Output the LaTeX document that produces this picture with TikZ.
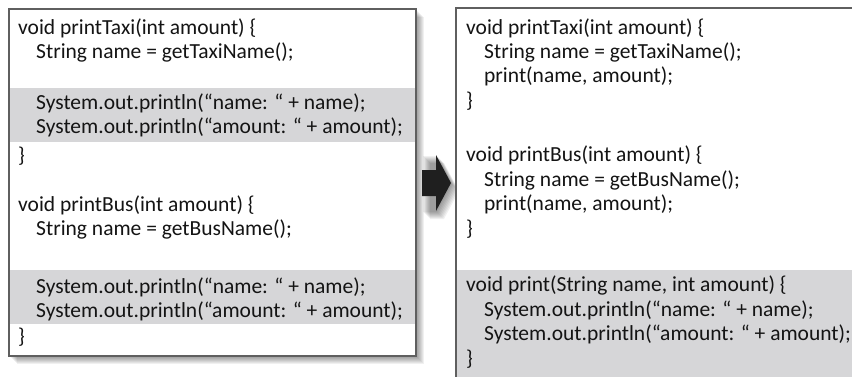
\documentclass[tikz,border=0pt]{standalone}
\usepackage{fontspec}
\setmainfont{Carlito}
\usetikzlibrary{positioning}
\definecolor{band}{RGB}{214,214,216}
\definecolor{frame}{RGB}{95,95,95}
\definecolor{ink}{RGB}{20,20,20}
\tikzset{
  code/.style={anchor=west, inner sep=0pt, text=ink, font=\fontsize{21.5}{24}\selectfont},
  box/.style={draw=frame, line width=1.4pt},
}
\begin{document}
\begin{tikzpicture}[x=1pt,y=-1pt]
\useasboundingbox (0,0) rectangle (852,376);
\clip (0,0) rectangle (852,376);

% shadows
\foreach \d in {1,...,8}
{
    \fill[black, opacity=.06] (9+\d,9+\d) rectangle (416+\d,356+\d);
    \fill[black, opacity=.06] (422+\d,155+\d) -- (436+\d,155+\d) -- (451+\d,183+\d) -- (436+\d,211+\d) -- (422+\d,211+\d) -- cycle;
}

% before
\fill[white] (9,9) rectangle (416,356);
\fill[band] (9,88) rectangle (416,142);
\fill[band] (9,270) rectangle (416,324);
\draw[box] (9,9) rectangle (416,356);

\node[code] (taxi) at (18,28) {void printTaxi(int amount) \{};
\node[code] (taxiname) at (36,52) {String name = getTaxiName();};
\node[code] (taxiprn) at (36,103) {System.out.println(“name: “ + name);};
\node[code] (taxipra) at (36,127) {System.out.println(“amount: “ + amount);};
\node[code] (taxiend) at (18,156) {\}};
\node[code] (bus) at (18,205) {void printBus(int amount) \{};
\node[code] (busname) at (36,229) {String name = getBusName();};
\node[code] (busprn) at (36,287) {System.out.println(“name: “ + name);};
\node[code] (buspra) at (36,311) {System.out.println(“amount: “ + amount);};
\node[code] (busend) at (18,337) {\}};

% arrow
\fill[black!88] (422,170) -- (436,170) -- (436,155) -- (451,183) -- (436,211) -- (436,196) -- (422,196) -- cycle;

% after
\fill[white] (456,8) rectangle (870,390);
\fill[band] (456,270) rectangle (870,390);
\draw[box] (456,8) rectangle (870,390);

\node[code] (ntaxi) at (466,28) {void printTaxi(int amount) \{};
\node[code] (ntaxiname) at (484,52) {String name = getTaxiName();};
\node[code] (ntaxicall) at (484,76) {print(name, amount);};
\node[code] (ntaxiend) at (466,101) {\}};
\node[code] (nbus) at (466,155) {void printBus(int amount) \{};
\node[code] (nbusname) at (484,180) {String name = getBusName();};
\node[code] (nbuscall) at (484,204) {print(name, amount);};
\node[code] (nbusend) at (466,229) {\}};
\node[code] (nprint) at (466,285) {void print(String name, int amount) \{};
\node[code] (nprintn) at (484,310) {System.out.println(“name: “ + name);};
\node[code] (nprinta) at (484,334) {System.out.println(“amount: “ + amount);};
\node[code] (nprintend) at (466,359) {\}};
\end{tikzpicture}
\end{document}
